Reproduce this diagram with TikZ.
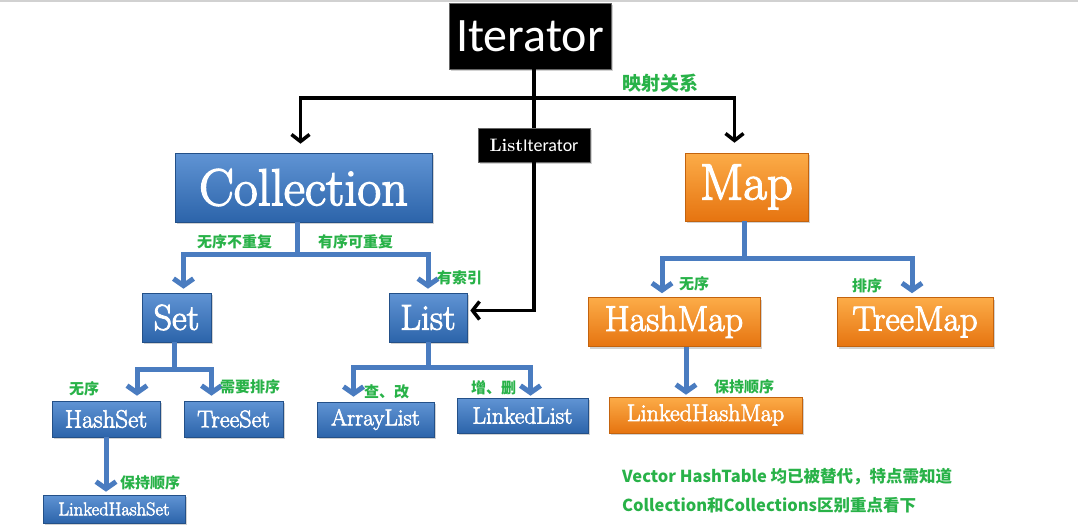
\documentclass[tikz,border=0pt]{standalone}
\usepackage{fontspec}
\newfontfamily\cjk{Noto Sans CJK SC}
\newfontfamily\carl{Carlito}
\newfontfamily\boxfont{Latin Modern Roman}[FakeBold=2.6]
\usetikzlibrary{arrows.meta,shadows}
\definecolor{lblgreen}{RGB}{40,178,72}
\definecolor{bluetop}{RGB}{96,148,212}
\definecolor{bluebot}{RGB}{44,100,170}
\definecolor{blueline}{RGB}{74,124,192}
\definecolor{orgtop}{RGB}{252,172,72}
\definecolor{orgbot}{RGB}{230,116,16}
\tikzset{
 box/.style={rectangle, inner sep=0pt, text=white, drop shadow={shadow xshift=1.5pt,shadow yshift=-2pt,opacity=0.35}},
 bluebox/.style={box, top color=bluetop, bottom color=bluebot, draw=bluebot!80!black, line width=0.6pt},
 orangebox/.style={box, top color=orgtop, bottom color=orgbot, draw=orgbot!85!black, line width=0.6pt},
 blackbox/.style={box, fill=black, draw=black!60, line width=0.6pt},
 lbl/.style={text=lblgreen, font=\cjk\bfseries\fontsize{15}{15}\selectfont, inner sep=0pt, anchor=west},
 note/.style={text=lblgreen, font=\cjk\bfseries\fontsize{16.5}{16.5}\selectfont, inner sep=0pt, anchor=west},
 blkline/.style={line width=3.5pt, draw=black, line join=miter},
 blkarrow/.style={blkline, -{Straight Barb[length=7pt,width=18pt]}},
 blline/.style={line width=5pt, draw=blueline},
 blarrow/.style={blline, -{Straight Barb[length=7pt,width=20pt]}},
 fs/.style={font=\boxfont\fontsize{#1}{#1}\selectfont},
}
\begin{document}
\begin{tikzpicture}[x=1pt,y=-1pt]
\useasboundingbox (0,0) rectangle (1078,528);
\fill[white] (0,0) rectangle (1078,528);
\draw[black!18, line width=1.5pt] (0,1) -- (1078,1);

% nodes
\node[blackbox, minimum width=162pt, minimum height=66pt, font=\carl\fontsize{48}{48}\selectfont] (It) at (530,36) {Iterator};
\node[blackbox, minimum width=112pt, minimum height=34pt] (LI) at (534,145) {\fontsize{18}{18}\selectfont\bfseries List\carl\mdseries Iterator};
\node[bluebox, fs=52, minimum width=257pt, minimum height=69pt] (Coll) at (303.5,187.5) {Collection};
\node[orangebox, fs=51, minimum width=123pt, minimum height=68pt] (Map) at (746.5,187) {\raisebox{-3pt}{Map}};
\node[bluebox, fs=36, minimum width=69pt, minimum height=49pt] (Set) at (176.5,317.5) {Set};
\node[bluebox, fs=36, minimum width=78pt, minimum height=49pt] (List) at (428,317.5) {List};
\node[orangebox, fs=36, minimum width=172pt, minimum height=49pt] (HM) at (674,322) {HashMap};
\node[orangebox, fs=35, minimum width=156pt, minimum height=49pt] (TM) at (915,322) {TreeMap};
\node[bluebox, fs=25, minimum width=108pt, minimum height=36pt] (HS) at (106,419) {HashSet};
\node[bluebox, fs=24, minimum width=99pt, minimum height=36pt] (TS) at (233.5,419) {TreeSet};
\node[bluebox, fs=18.5, minimum width=142pt, minimum height=28pt] (LHS) at (114,509) {LinkedHashSet};
\node[bluebox, fs=23, minimum width=117pt, minimum height=35pt] (AL) at (375.5,419.5) {ArrayList};
\node[bluebox, fs=23.5, minimum width=131pt, minimum height=35pt] (LL) at (522.5,415.5) {LinkedList};
\node[orangebox, fs=24, minimum width=193pt, minimum height=36pt] (LHM) at (705.5,415) {LinkedHashMap};

% black connectors
\coordinate (J) at (534,98);
\draw[blkline] (It.south -| LI.north) -- (LI.north);
\draw[blkarrow, shorten >=9pt] (J) -| ([xshift=-3pt]Coll.north);
\draw[blkarrow, shorten >=10pt] (J) -| ([xshift=-12pt]Map.north);
\draw[blkarrow, shorten >=3pt] (LI.south) |- ([yshift=7pt]List.east);

% blue connectors
\draw[blarrow, shorten >=4pt] ([xshift=-6pt]Coll.south) -- ++(0,32) -| ([xshift=7pt]Set.north);
\draw[blarrow, shorten >=4pt] ([xshift=-6pt]Coll.south) -- ++(0,32) -| (List.north);
\draw[blarrow, shorten >=5pt] ([xshift=-2pt]Set.south) -- ++(0,27) -| ([xshift=31pt]HS.north);
\draw[blarrow, shorten >=5pt] ([xshift=-2pt]Set.south) -- ++(0,27) -| ([xshift=-22pt]TS.north);
\draw[blarrow, shorten >=3pt] (HS.south) -- (HS.south |- LHS.north);
\draw[blarrow, shorten >=5pt] (List.south) -- ++(0,25) -| ([xshift=-22pt]AL.north);
\draw[blarrow, shorten >=2pt] (List.south) -- ++(0,25) -| ([xshift=8pt]LL.north);
\draw[blarrow, shorten >=4pt] ([xshift=-2pt]Map.south) -- ++(0,37) -| ([xshift=-12pt]HM.north);
\draw[blarrow, shorten >=4pt] ([xshift=-2pt]Map.south) -- ++(0,37) -| ([xshift=-3pt]TM.north);
\draw[blarrow, shorten >=2pt] ([xshift=12pt]HM.south) -- ([xshift=12pt]HM.south |- LHM.north);

% labels
\node[lbl, font=\cjk\bfseries\fontsize{19}{19}\selectfont] (l0) at (622,83) {映射关系};
\node[lbl] (l1) at (197,242) {无序不重复};
\node[lbl] (l2) at (318,242) {有序可重复};
\node[lbl] (l3) at (437,278) {有索引};
\node[lbl] (l4) at (679,284) {无序};
\node[lbl] (l5) at (852,286) {排序};
\node[lbl] (l6) at (69,389) {无序};
\node[lbl] (l7) at (220,387) {需要排序};
\node[lbl] (l8) at (120,483) {保持顺序};
\node[lbl] (l9) at (364,392) {查、改};
\node[lbl] (l10) at (471,388) {增、删};
\node[lbl] (l11) at (714,387) {保持顺序};
\node[note] (n1) at (622,477) {Vector HashTable 均已被替代，特点需知道};
\node[note] (n2) at (622,505) {Collection和Collections区别重点看下};
\end{tikzpicture}
\end{document}
